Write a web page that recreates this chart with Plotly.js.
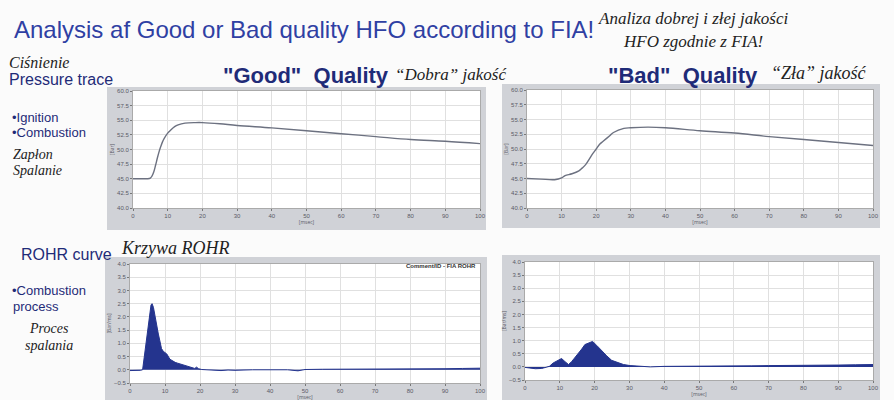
<!DOCTYPE html>
<html>
<head>
<meta charset="utf-8">
<script src="https://cdn.plot.ly/plotly-3.0.1.min.js"></script>
<style>html,body{margin:0;padding:0;background:#fbfbfb;}#chart{width:894px;height:400px;}</style>
</head>
<body>
<div id="chart"></div>
<script>
// ---- Data ----
const goodPressureX = [0, 2, 4, 5, 5.5, 6, 6.5, 7, 7.5, 8, 8.5, 9, 10, 11, 12, 13, 15, 18, 20, 25, 30, 40, 50, 60, 70, 80, 90, 100];
const goodPressureY = [45.0, 45.0, 45.0, 45.1, 45.5, 46.2, 47.3, 48.5, 49.6, 50.5, 51.3, 51.9, 52.8, 53.4, 53.9, 54.2, 54.5, 54.6, 54.6, 54.4, 54.1, 53.7, 53.2, 52.7, 52.2, 51.7, 51.4, 51.0];

const badPressureX = [0, 4, 8, 10, 11, 13, 15, 16, 17, 18, 19, 20, 21, 22, 24, 25, 28, 30, 35, 40, 50, 60, 70, 80, 90, 100];
const badPressureY = [45.0, 44.9, 44.8, 45.1, 45.5, 45.8, 46.3, 46.8, 47.4, 48.3, 49.2, 50.0, 50.8, 51.3, 52.3, 52.8, 53.5, 53.6, 53.7, 53.6, 53.1, 52.7, 52.1, 51.6, 51.1, 50.6];

const goodRohrX = [0, 2, 3, 3.6, 4.0, 4.5, 5.0, 5.5, 6.0, 6.3, 6.7, 7.2, 7.6, 8.1, 8.6, 9.0, 9.5, 10.5, 11.4, 12.1, 12.9, 13.6, 14.3, 15.2, 16.2, 17.5, 18.5, 19.0, 19.6, 20.5, 22, 24, 26, 28, 30, 35, 40, 45, 48, 50, 55, 60, 65, 70, 75, 80, 85, 90, 95, 100];
const goodRohrY = [-0.03, -0.03, -0.02, 0.0, 0.4, 0.8, 1.4, 2.0, 2.45, 2.5, 2.36, 2.0, 1.67, 1.35, 1.05, 0.8, 0.7, 0.6, 0.4, 0.33, 0.28, 0.25, 0.22, 0.17, 0.12, 0.08, 0.05, 0.1, 0.04, 0.01, 0.0, -0.02, -0.03, -0.01, -0.02, 0.0, 0.01, 0.0, -0.04, 0.01, 0.02, 0.02, 0.03, 0.02, 0.03, 0.04, 0.04, 0.04, 0.05, 0.06];

const badRohrX = [0, 1.4, 3, 4.8, 6, 7.0, 8.1, 9.6, 10.5, 11.5, 12.5, 13.4, 14.8, 16.3, 17.2, 18.7, 19.4, 20.6, 22, 23.5, 24.9, 26.3, 28.3, 30.2, 33.1, 36, 40, 45, 50, 55, 60, 65, 70, 75, 80, 85, 90, 95, 100];
const badRohrY = [-0.02, -0.05, -0.07, -0.06, 0.0, 0.02, 0.15, 0.25, 0.32, 0.2, 0.09, 0.2, 0.42, 0.68, 0.85, 0.95, 0.97, 0.82, 0.62, 0.42, 0.25, 0.19, 0.09, 0.05, 0.02, 0.0, 0.02, 0.02, 0.03, 0.03, 0.04, 0.04, 0.05, 0.05, 0.06, 0.06, 0.07, 0.08, 0.09];

const xTicks = [0, 10, 20, 30, 40, 50, 60, 70, 80, 90, 100];
const pressureTicks = [40.0, 42.5, 45.0, 47.5, 50.0, 52.5, 55.0, 57.5, 60.0];
const rohrTicks = [-0.5, 0.0, 0.5, 1.0, 1.5, 2.0, 2.5, 3.0, 3.5, 4.0];

// ---- Layout helpers (pixel -> paper) ----
const W = 894, H = 400;
const px = v => v / W;
const py = v => 1 - v / H;

const tickFont = {family: 'Liberation Sans', size: 6, color: '#5a5a66'};
function xAxis(l, r, anchor) {
  return {domain: [px(l), px(r)], range: [0, 100], tickvals: xTicks, tickfont: tickFont,
    ticks: 'outside', ticklen: 2, tickcolor: '#777', showgrid: true, gridcolor: '#e0e0e0',
    showline: true, linecolor: '#aaa', mirror: true, zeroline: false, anchor: anchor,
    title: {text: '[msec]', font: {size: 5, color: '#5a5a66'}, standoff: 1}};
}
function yAxis(t, b, range, ticks, title, anchor) {
  return {domain: [py(b), py(t)], range: range, tickvals: ticks, tickformat: '.1f', tickfont: tickFont,
    ticks: 'outside', ticklen: 2, tickcolor: '#777', showgrid: true, gridcolor: '#e0e0e0',
    showline: true, linecolor: '#aaa', mirror: true, zeroline: false, anchor: anchor,
    title: {text: title, font: {size: 5, color: '#5a5a66'}, standoff: 2}};
}

const lineStyle = {color: '#6c7180', width: 1.4};
const fillColor = '#24348e';

const traces = [
  {x: goodPressureX, y: goodPressureY, xaxis: 'x', yaxis: 'y', mode: 'lines', line: Object.assign({shape: 'spline'}, lineStyle), hoverinfo: 'skip'},
  {x: badPressureX, y: badPressureY, xaxis: 'x2', yaxis: 'y2', mode: 'lines', line: Object.assign({shape: 'spline'}, lineStyle), hoverinfo: 'skip'},
  {x: goodRohrX, y: goodRohrY, xaxis: 'x3', yaxis: 'y3', mode: 'lines', fill: 'tozeroy', fillcolor: fillColor, line: {color: fillColor, width: 1}, hoverinfo: 'skip'},
  {x: badRohrX, y: badRohrY, xaxis: 'x4', yaxis: 'y4', mode: 'lines', fill: 'tozeroy', fillcolor: fillColor, line: {color: fillColor, width: 1}, hoverinfo: 'skip'}
];

function frame(x0, y0, x1, y1) {
  return {type: 'rect', xref: 'paper', yref: 'paper', x0: px(x0), x1: px(x1), y0: py(y1), y1: py(y0),
    fillcolor: '#d0d2d7', line: {width: 0}, layer: 'below'};
}
function plotBg(x0, y0, x1, y1) {
  return {type: 'rect', xref: 'paper', yref: 'paper', x0: px(x0), x1: px(x1), y0: py(y1), y1: py(y0),
    fillcolor: '#ffffff', line: {width: 0}, layer: 'below'};
}

const sans = 'Liberation Sans';
const serif = 'Liberation Serif';
const blue = '#2f40a3';
const navy = '#1f2b78';

function txt(text, x, y, font, xanchor) {
  return {text: text, xref: 'paper', yref: 'paper', x: px(x), y: py(y), xanchor: xanchor || 'left',
    yanchor: 'middle', showarrow: false, font: font};
}

const annotations = [
  txt('Analysis af Good or Bad quality HFO according to FIA!', 12, 30, {family: sans, size: 24, color: blue}),
  txt('<i>Analiza dobrej i złej jakości</i>', 693, 18, {family: serif, size: 17, color: '#222'}, 'center'),
  txt('<i>HFO zgodnie z FIA!</i>', 693, 41, {family: serif, size: 17, color: '#222'}, 'center'),
  txt('<i>Ciśnienie</i>', 7, 63, {family: serif, size: 16, color: '#222'}),
  txt('Pressure trace', 7, 80, {family: sans, size: 16, color: navy}),
  txt('•Ignition', 10, 117, {family: sans, size: 13, color: navy}),
  txt('•Combustion', 10, 132, {family: sans, size: 13, color: navy}),
  txt('<i>Zapłon</i>', 11, 155, {family: serif, size: 14, color: '#222'}),
  txt('<i>Spalanie</i>', 11, 170, {family: serif, size: 14, color: '#222'}),
  txt('<b>"Good"  Quality</b>', 221, 75, {family: sans, size: 22, color: navy}),
  txt('<i>“Dobra” jakość</i>', 393, 74, {family: serif, size: 17, color: '#222'}),
  txt('<b>"Bad"  Quality</b>', 606, 75, {family: sans, size: 22, color: navy}),
  txt('<i>“Zła” jakość</i>', 769, 73, {family: serif, size: 18, color: '#222'}),
  txt('ROHR curve', 19, 255, {family: sans, size: 16, color: navy}),
  txt('<i>Krzywa ROHR</i>', 119, 248, {family: serif, size: 18, color: '#222'}),
  txt('•Combustion', 10, 290, {family: sans, size: 13, color: navy}),
  txt('process', 11, 306, {family: sans, size: 13, color: navy}),
  txt('<i>Proces</i>', 49, 328, {family: serif, size: 14, color: '#222'}, 'center'),
  txt('<i>spalania</i>', 49, 345, {family: serif, size: 14, color: '#222'}, 'center'),
  txt('<b>Comment/ID - FIA ROHR</b>', 478, 266, {family: sans, size: 6, color: '#333'}, 'right')
];

const layout = {
  width: W, height: H, autosize: false,
  margin: {l: 0, r: 0, t: 0, b: 0},
  paper_bgcolor: '#fbfbfb', plot_bgcolor: 'rgba(0,0,0,0)',
  showlegend: false,
  xaxis: xAxis(133, 480, 'y'),
  yaxis: yAxis(91, 208, [40, 60], pressureTicks, '[Bar]', 'x'),
  xaxis2: xAxis(527, 873, 'y2'),
  yaxis2: yAxis(90, 208, [40, 60], pressureTicks, '[Bar]', 'x2'),
  xaxis3: xAxis(130, 480, 'y3'),
  yaxis3: yAxis(264, 383, [-0.5, 4.0], rohrTicks, '[Bar/ms]', 'x3'),
  xaxis4: xAxis(525, 873, 'y4'),
  yaxis4: yAxis(262, 380, [-0.5, 4.0], rohrTicks, '[Bar/ms]', 'x4'),
  shapes: [
    frame(107, 87, 486, 230), plotBg(133, 91, 480, 208),
    frame(502, 84, 880, 228), plotBg(527, 90, 873, 208),
    frame(105, 257, 487, 400), plotBg(130, 264, 480, 383),
    frame(502, 255, 880, 400), plotBg(525, 262, 873, 380)
  ],
  annotations: annotations
};

Plotly.newPlot('chart', traces, layout, {staticPlot: true, displayModeBar: false});
</script>
</body>
</html>
